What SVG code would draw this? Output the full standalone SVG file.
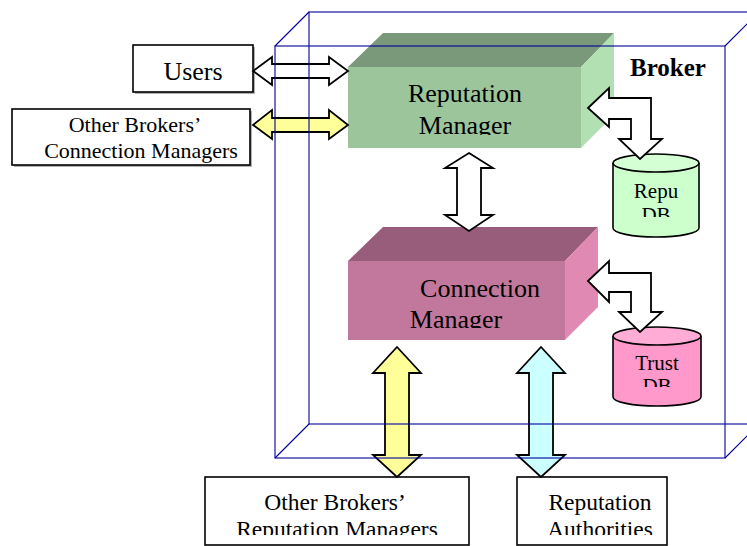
<svg xmlns="http://www.w3.org/2000/svg" width="747" height="546" viewBox="0 0 747 546">
<style>
.t{font-family:"Liberation Serif","Times New Roman",serif;fill:#000;text-anchor:middle}
.box{fill:#fff;stroke:#000;stroke-width:1.6}
.shadow{fill:#b0b0b0}
.arr{stroke:#000;stroke-width:1.8;stroke-linejoin:miter}
.brk{fill:none;stroke:#000099;stroke-width:1.1}
.cyl{stroke:#000;stroke-width:1.6}
</style>
<defs>
<clipPath id="cRM"><rect x="348" y="67" width="233" height="68"/></clipPath>
<clipPath id="cCM"><rect x="348" y="261" width="217" height="67"/></clipPath>
<clipPath id="cRD"><rect x="613" y="170" width="86" height="47"/></clipPath>
<clipPath id="cTD"><rect x="613" y="343" width="88" height="44"/></clipPath>
<clipPath id="cB1"><rect x="205" y="477" width="264" height="58"/></clipPath>
<clipPath id="cB2"><rect x="517" y="477" width="150" height="58"/></clipPath>
</defs>
<rect width="747" height="546" fill="#fff"/>

<g id="users">
<rect class="shadow" x="135" y="47" width="120" height="47"/>
<rect class="box" x="133" y="45" width="120" height="47"/>
<text class="t" x="193" y="80" font-size="26">Users</text>
</g>

<g id="other-conn">
<rect class="shadow" x="14" y="111" width="238" height="56"/>
<rect class="box" x="12" y="109" width="238" height="56"/>
<text class="t" x="135" y="132" font-size="22">Other Brokers’</text>
<text class="t" x="141" y="158" font-size="22">Connection Managers</text>
</g>

<g id="reputation-manager">
<polygon points="348,67 383,33 614,33 581,67" fill="#7a987a"/>
<polygon points="581,67 614,33 614,115 581,148" fill="#b3e0b3"/>
<rect x="348" y="67" width="233" height="81" fill="#9cc59c"/>
<g clip-path="url(#cRM)">
<text class="t" x="465" y="102" font-size="26">Reputation</text>
<text class="t" x="465" y="134" font-size="26">Manager</text>
</g>
</g>

<g id="connection-manager">
<polygon points="348,261 383,227 598,227 565,261" fill="#985d7a"/>
<polygon points="565,261 598,227 598,307 565,340" fill="#e08ab3"/>
<rect x="348" y="261" width="217" height="79" fill="#c2789c"/>
<g clip-path="url(#cCM)">
<text class="t" x="480" y="297" font-size="26">Connection</text>
<text class="t" x="456" y="328" font-size="26">Manager</text>
</g>
</g>

<g id="repu-db">
<path class="cyl" d="M613,163 V228 A43,9 0 0 0 699,228 V163" fill="#ccffcc"/>
<ellipse class="cyl" cx="656" cy="163" rx="43" ry="9" fill="#d4ffd4"/>
<g clip-path="url(#cRD)">
<text class="t" x="656" y="198" font-size="21">Repu</text>
<text class="t" x="656" y="222" font-size="21">DB</text>
</g>
</g>

<g id="trust-db">
<path class="cyl" d="M613,336 V397 A44,9 0 0 0 701,397 V336" fill="#ff99cc"/>
<ellipse class="cyl" cx="657" cy="336" rx="44" ry="9" fill="#ffadd6"/>
<g clip-path="url(#cTD)">
<text class="t" x="657" y="370" font-size="21">Trust</text>
<text class="t" x="657" y="393" font-size="21">DB</text>
</g>
</g>

<g id="other-rep">
<rect class="box" x="205" y="477" width="264" height="68"/>
<g clip-path="url(#cB1)">
<text class="t" x="335" y="510" font-size="23.5">Other Brokers’</text>
<text class="t" x="337" y="537" font-size="23.5">Reputation Managers</text>
</g>
</g>

<g id="rep-authorities">
<rect class="box" x="517" y="477" width="150" height="68"/>
<g clip-path="url(#cB2)">
<text class="t" x="600" y="510" font-size="23.5">Reputation</text>
<text class="t" x="600" y="537" font-size="23.5">Authorities</text>
</g>
</g>

<g id="connectors">
<polygon class="arr" fill="#fff" points="253,71 272,57 272,64 329,64 329,57 348,71 329,85 329,78 272,78 272,85"/>
<polygon class="arr" fill="#ffff99" points="253,125 272,110 272,118 329,118 329,110 348,125 329,139 329,132 272,132 272,139"/>
<polygon class="arr" fill="#fff" points="469,153 493,168 481,168 481,215 493,215 469,231 445,215 457,215 457,168 445,168"/>
<polygon class="arr" fill="#ffff99" points="397,347 421,373 409,373 409,455 421,455 397,477 373,455 385,455 385,373 373,373"/>
<polygon class="arr" fill="#ccffff" points="541,347 565,373 553,373 553,455 565,455 541,477 517,455 529,455 529,373 517,373"/>
<polygon class="arr" fill="#fff" points="588,108 609,88 609,98 651,98 651,139 662,139 640,159 619,139 631,139 631,119 609,119 609,127"/>
<polygon class="arr" fill="#fff" points="588,281 609,261 609,273 651,273 651,312 662,312 640,332 619,312 631,312 631,292 609,292 609,302"/>
</g>

<g id="broker">
<rect class="brk" x="309" y="12" width="450" height="412"/>
<rect class="brk" x="275" y="46" width="450" height="412"/>
<path class="brk" d="M275,46 L309,12 M725,46 L759,12 M275,458 L309,424 M725,458 L759,424"/>
<text class="t" x="668" y="76" font-size="25" font-weight="bold">Broker</text>
</g>
</svg>
